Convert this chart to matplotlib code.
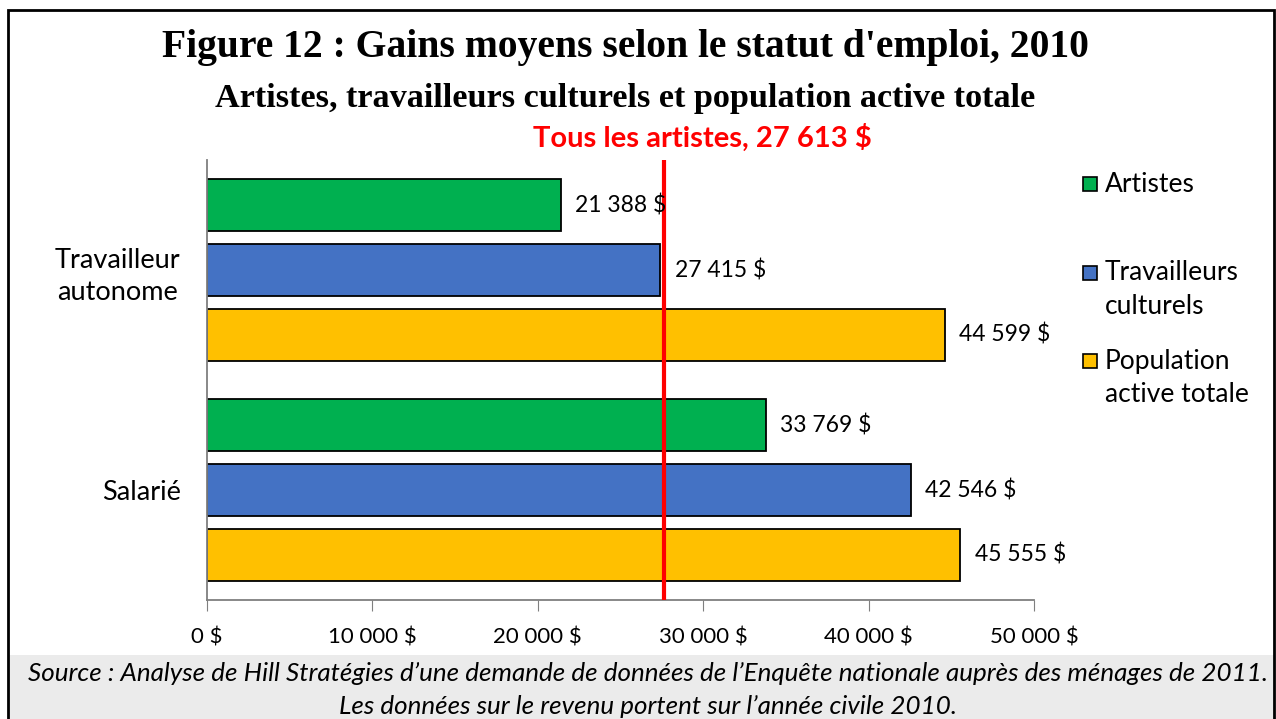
import numpy as np
import matplotlib.pyplot as plt
from matplotlib.patches import Rectangle

#---------------------------------------------------------#
# Data
#---------------------------------------------------------#
categories = ['Travailleur\nautonome', 'Salarié']
series = ['Artistes', 'Travailleurs\nculturels', 'Population\nactive totale']
artistes = [21388, 33769]
travailleurs = [27415, 42546]
population = [44599, 45555]
all_artists = 27613
xticks = [0, 10000, 20000, 30000, 40000, 50000]

colors = ['#00b050', '#4472c4', '#ffc000']
sans = ['Lato', 'DejaVu Sans']
serif = ['Liberation Serif', 'DejaVu Serif']


def money(v):
    return f"{v:,}".replace(",", " ") + " $"


#---------------------------------------------------------#
# Figure
#---------------------------------------------------------#
W, H = 1276, 719
fig = plt.figure(figsize=(W / 100, H / 100), dpi=100)
fig.patch.set_facecolor('white')

# footer band + outer border
fig.patches.append(Rectangle((8 / W, 0), (1274 - 8) / W, (H - 655) / H,
                             transform=fig.transFigure, facecolor='#ebebeb',
                             edgecolor='none', zorder=0))
fig.patches.append(Rectangle((8 / W, -0.01), (1274 - 8) / W, 1 - 10 / H + 0.01,
                             transform=fig.transFigure, facecolor='none',
                             edgecolor='black', linewidth=2, zorder=5))

ax = fig.add_axes([207 / W, 1 - 600 / H, (1034 - 207) / W, (600 - 160) / H])

y = np.arange(len(categories))
step = 0.295
height = 0.236
for i, (vals, col) in enumerate(zip([artistes, travailleurs, population], colors)):
    pos = y + (i - 1) * step
    ax.barh(pos, vals, height=height, color=col, edgecolor='black', linewidth=1.3, zorder=2)
    for p, v in zip(pos, vals):
        ax.text(v + 850, p, money(v), va='center', ha='left', fontsize=16.5,
                family=sans, zorder=4)

ax.axvline(all_artists, color='#ff0000', linewidth=3, zorder=3)

ax.set_xlim(0, 50000)
ax.set_ylim(1.5, -0.5)
ax.set_xticks(xticks)
ax.set_xticklabels([money(t) for t in xticks], family=sans, fontsize=16)
ax.set_yticks(y)
ax.set_yticklabels(categories, family=sans, fontsize=19.5, ha='right',
                   multialignment='center', linespacing=1.4)
ax.tick_params(axis='y', length=0, pad=19)
ax.tick_params(axis='x', length=8, color='#7f7f7f', pad=12, direction='out')
for s in ['top', 'right']:
    ax.spines[s].set_visible(False)
ax.spines['left'].set_color('#7f7f7f')
ax.spines['bottom'].set_color('#7f7f7f')
ax.spines['left'].set_linewidth(1.3)
ax.spines['bottom'].set_linewidth(1.3)

#---------------------------------------------------------#
# Titles
#---------------------------------------------------------#
fig.text(625 / W, 1 - 48 / H, "Figure 12 : Gains moyens selon le statut d'emploi, 2010",
         ha='center', va='center', fontsize=28.5, fontweight='bold', family=serif)
fig.text(625 / W, 1 - 98 / H, "Artistes, travailleurs culturels et population active totale",
         ha='center', va='center', fontsize=24.6, fontweight='bold', family=serif)
fig.text(702 / W, 1 - 138 / H, "Tous les artistes, " + money(all_artists),
         ha='center', va='center', fontsize=21, fontweight='bold', color='#ff0000', family=sans)

#---------------------------------------------------------#
# Legend (manual, Excel style)
#---------------------------------------------------------#
leg_y = [184, 273, 361]
for lab, col, ly in zip(series, colors, leg_y):
    fig.patches.append(Rectangle((1083 / W, 1 - (ly + 7) / H), 14 / W, 14 / H,
                                 transform=fig.transFigure, facecolor=col,
                                 edgecolor='black', linewidth=1.2, zorder=3))
    for k, line in enumerate(lab.split('\n')):
        fig.text(1105 / W, 1 - (ly + 34 * k) / H, line, ha='left', va='center',
                 fontsize=19, family=sans)

#---------------------------------------------------------#
# Source
#---------------------------------------------------------#
fig.text(648 / W, 1 - 673 / H,
         "Source : Analyse de Hill Stratégies d’une demande de données de l’Enquête nationale auprès des ménages de 2011.",
         ha='center', va='center', fontsize=18.7, style='italic', family=sans)
fig.text(648 / W, 1 - 706 / H, "Les données sur le revenu portent sur l’année civile 2010.",
         ha='center', va='center', fontsize=18.7, style='italic', family=sans)

fig.savefig('out.png', dpi=100)
